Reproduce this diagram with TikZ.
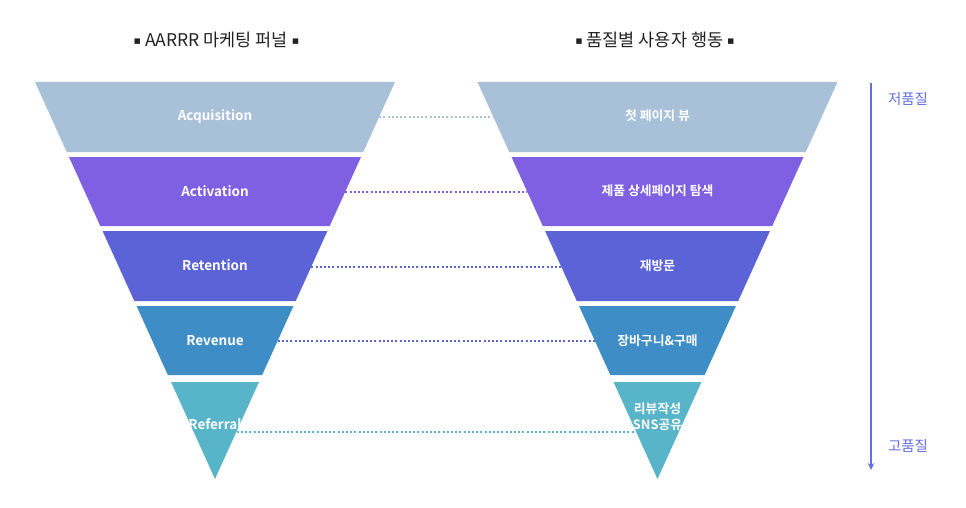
\documentclass[tikz,border=0pt]{standalone}
\usepackage{fontspec}
\setmainfont{Noto Sans CJK KR}[BoldFont={Noto Sans CJK KR Bold}]
\newfontfamily\symf{DejaVu Sans}
\usetikzlibrary{arrows.meta}
\definecolor{cA}{HTML}{A8C1D9}
\definecolor{cB}{HTML}{7F60E3}
\definecolor{cC}{HTML}{5B63D6}
\definecolor{cD}{HTML}{3E8DC6}
\definecolor{cE}{HTML}{58B4C9}
\definecolor{qual}{HTML}{6470E0}
\definecolor{ttl}{HTML}{222222}
\newcommand\funnelseg[4]{%
  \pgfmathsetmacro\hwa{0.4534*(479-#2)}%
  \pgfmathsetmacro\hwb{0.4534*(479-#3)}%
  \fill[#4] ({#1-\hwa},#2) -- ({#1+\hwa},#2) -- ({#1+\hwb},#3) -- ({#1-\hwb},#3) -- cycle;}
\newcommand\sqmark{\raisebox{2.2pt}{\symf\fontsize{11}{12}\selectfont ▪}}
\begin{document}
\begin{tikzpicture}[x=1pt,y=-1pt,
  title/.style={text=ttl,font=\fontsize{17.5}{21}\selectfont,inner sep=0pt,anchor=center},
  latlab/.style={text=white,font=\bfseries\fontsize{13.5}{16}\selectfont,inner sep=0pt,anchor=center},
  korlab/.style={text=white,font=\bfseries\fontsize{12.8}{16}\selectfont,inner sep=0pt,anchor=center,align=center},
  sidelab/.style={text=qual,font=\fontsize{14.5}{17}\selectfont,inner sep=0pt,anchor=center},
  dotline/.style={line width=2pt,dash pattern=on 2pt off 2.2pt}]
\useasboundingbox (0,0) rectangle (966,508);
\fill[white] (0,0) rectangle (966,508);
% titles
\node[title] (t1) at (216.5,40) {\sqmark\ AARRR 마케팅 퍼널\ \sqmark};
\node[title] (t2) at (655,40) {\sqmark\ 품질별 사용자 행동\ \sqmark};
% connector end points
\coordinate (a1) at (379.1,117);   \coordinate (b1) at (493.4,117);
\coordinate (a2) at (345.4,191.5); \coordinate (b2) at (527.1,191.5);
\coordinate (a3) at (311.3,267);   \coordinate (b3) at (561.2,267);
\coordinate (a4) at (277.8,340.5); \coordinate (b4) at (594.7,340.5);
\coordinate (a5) at (236.8,431.5); \coordinate (b5) at (635.7,431.5);
\draw[dotline,cA] (a1) -- (b1);
\draw[dotline,cB] (a2) -- (b2);
\draw[dotline,cC] (a3) -- (b3);
\draw[dotline,cC] (a4) -- (b4);
\draw[dotline,cE] (a5) -- (b5);
% left funnel
\funnelseg{215}{82}{152}{cA}
\funnelseg{215}{157}{226}{cB}
\funnelseg{215}{231}{301}{cC}
\funnelseg{215}{306}{375}{cD}
\funnelseg{215}{382}{479}{cE}
% right funnel
\funnelseg{657.5}{82}{152}{cA}
\funnelseg{657.5}{157}{226}{cB}
\funnelseg{657.5}{231}{301}{cC}
\funnelseg{657.5}{306}{375}{cD}
\funnelseg{657.5}{382}{479}{cE}
% labels
\node[latlab] (l1) at (215,116) {Acquisition};
\node[latlab] (l2) at (215,191) {Activation};
\node[latlab] (l3) at (215,265.5) {Retention};
\node[latlab] (l4) at (215,341) {Revenue};
\node[latlab] (l5) at (215,424) {Referral};
\node[korlab] (r1) at (657.5,116) {첫 페이지 뷰};
\node[korlab] (r2) at (657.5,191) {제품 상세페이지 탐색};
\node[korlab] (r3) at (657.5,265.5) {재방문};
\node[korlab] (r4) at (657.5,341) {장바구니\&구매};
\node[korlab] (r5) at (657.5,417) {리뷰작성\\SNS공유};
% quality arrow
\coordinate (qtop) at (871,83);
\coordinate (qbot) at (871,470);
\draw[qual,line width=1.4pt,-{Stealth[length=7pt,width=6.5pt]}] (qtop) -- (qbot);
\node[sidelab] (q1) at (908,99) {저품질};
\node[sidelab] (q2) at (908,446) {고품질};
\end{tikzpicture}
\end{document}
